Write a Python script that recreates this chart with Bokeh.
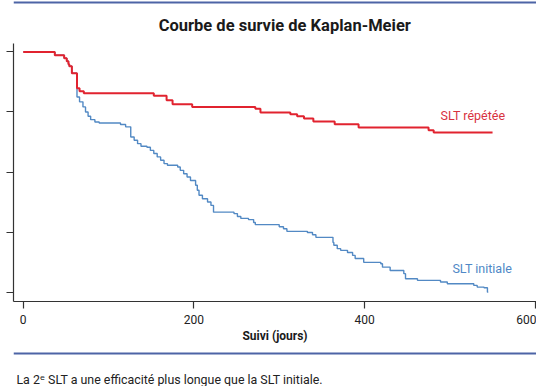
from bokeh.plotting import figure
from bokeh.models import Range1d, Span, FixedTicker, CustomJSTickFormatter
from bokeh.layouts import column
from bokeh.embed import file_html
from bokeh.resources import INLINE
from bokeh.core.properties import value

# ---------------- data ----------------
title_text = "Courbe de survie de Kaplan-Meier"
x_label = "Suivi (jours)"
caption_text = "La 2ᵉ SLT a une efficacité plus longue que la SLT initiale."
series_names = ["SLT répétée", "SLT initiale"]

x_ticks = [0, 200, 400, 600]
y_ticks = [0, 0.25, 0.5, 0.75, 1.0]

repeat_days = [0, 37, 48, 51, 53, 54, 57, 63, 66, 71, 153, 168, 175, 198, 272,
               278, 313, 321, 329, 340, 365, 393, 475, 481, 550]
repeat_surv = [1.0, 0.986, 0.974, 0.961, 0.949, 0.940, 0.911, 0.849, 0.836, 0.828,
               0.817, 0.799, 0.782, 0.771, 0.763, 0.748, 0.740, 0.732, 0.723, 0.710,
               0.699, 0.685, 0.674, 0.665, 0.665]

initial_days = [0, 37, 48, 51, 53, 54, 57, 63, 66, 70, 73, 76, 79, 84, 89, 114, 120,
                126, 130, 134, 138, 145, 149, 153, 157, 161, 165, 169, 181, 184, 188,
                192, 196, 202, 204, 206, 210, 216, 220, 223, 247, 251, 255, 264, 270,
                272, 300, 305, 309, 333, 339, 343, 363, 364, 368, 372, 380, 386, 389,
                399, 419, 421, 430, 446, 448, 462, 489, 497, 528, 532, 540, 544, 545]
initial_surv = [1.0, 0.986, 0.974, 0.961, 0.949, 0.940, 0.911, 0.812, 0.792, 0.771,
                0.750, 0.732, 0.718, 0.708, 0.704, 0.698, 0.688, 0.646, 0.632, 0.618,
                0.607, 0.603, 0.590, 0.577, 0.563, 0.549, 0.535, 0.528, 0.521, 0.507,
                0.493, 0.479, 0.465, 0.445, 0.424, 0.403, 0.389, 0.375, 0.361, 0.333,
                0.327, 0.315, 0.307, 0.302, 0.290, 0.281, 0.272, 0.264, 0.253, 0.248,
                0.239, 0.228, 0.207, 0.195, 0.181, 0.174, 0.165, 0.153, 0.140, 0.124,
                0.118, 0.104, 0.090, 0.077, 0.056, 0.049, 0.042, 0.035, 0.028, 0.021,
                0.018, 0.0, 0.0]

# label anchor positions (data units)
repeat_label_pos = (489, 0.736)
initial_label_pos = (503, 0.099)

# ---------------- style ----------------
FONT = "Roboto, 'DejaVu Sans'"
RED = "#e1232f"
RED_TXT = "#d8323f"
BLUE = "#5289c4"
BLUE_TXT = "#4f88c6"
RULE = "#4d64a6"
AXIS = "#333333"
W = 536

# ---------------- top (rule + title) ----------------
top = figure(width=W, height=38, x_range=Range1d(0, W), y_range=Range1d(0, 38),
             output_backend="svg", toolbar_location=None, min_border=0)
top.axis.visible = False
top.grid.visible = False
top.outline_line_color = None
top.add_layout(Span(location=36, dimension="width", line_color=RULE, line_width=2))
top.text(x=[278], y=[13], text=[title_text], text_font=value(FONT),
         text_font_size="16.5px", text_font_style="bold", text_color="#1a1a1a",
         text_align="center", text_baseline="middle")

# ---------------- main plot ----------------
p = figure(width=W, height=307, x_range=Range1d(-11.4, 601.5),
           y_range=Range1d(-0.039, 1.035), output_backend="svg",
           toolbar_location=None, min_border_left=13, min_border_right=0,
           min_border_top=5, min_border_bottom=44)
p.outline_line_color = None
p.grid.visible = False

p.step(initial_days, initial_surv, mode="after", line_color=BLUE, line_width=1.4)
p.step(repeat_days, repeat_surv, mode="after", line_color=RED, line_width=2)

p.text(x=[repeat_label_pos[0]], y=[repeat_label_pos[1]], text=[series_names[0]],
       text_font=value(FONT), text_font_size="12.5px", text_color=RED_TXT,
       text_align="left", text_baseline="middle")
p.text(x=[initial_label_pos[0]], y=[initial_label_pos[1]], text=[series_names[1]],
       text_font=value(FONT), text_font_size="12.5px", text_color=BLUE_TXT,
       text_align="left", text_baseline="middle")

for ax in (p.xaxis[0], p.yaxis[0]):
    ax.axis_line_color = AXIS
    ax.axis_line_width = 1.2
    ax.major_tick_line_color = AXIS
    ax.major_tick_line_width = 1.2
    ax.major_tick_in = 0
    ax.major_tick_out = 7
    ax.minor_tick_line_color = None

p.xaxis.ticker = FixedTicker(ticks=x_ticks)
p.xaxis.major_label_text_font = FONT
p.xaxis.major_label_text_font_size = "12px"
p.xaxis.major_label_text_color = "#222222"
p.xaxis.major_label_standoff = 6
p.xaxis.axis_label = x_label
p.xaxis.axis_label_text_font = FONT
p.xaxis.axis_label_text_font_size = "12px"
p.xaxis.axis_label_text_font_style = "bold"
p.xaxis.axis_label_text_color = "#1a1a1a"
p.xaxis.axis_label_standoff = 2

p.yaxis.ticker = FixedTicker(ticks=y_ticks)
p.yaxis.formatter = CustomJSTickFormatter(code="return '';")
p.yaxis.major_label_standoff = 0

# ---------------- bottom (rule + caption) ----------------
bottom = figure(width=W, height=41, x_range=Range1d(0, W), y_range=Range1d(0, 41),
                output_backend="svg", toolbar_location=None, min_border=0)
bottom.axis.visible = False
bottom.grid.visible = False
bottom.outline_line_color = None
bottom.add_layout(Span(location=33, dimension="width", line_color=RULE, line_width=2))
bottom.text(x=[3], y=[7], text=[caption_text], text_font=value(FONT),
            text_font_size="12.4px", text_color="#222222",
            text_align="left", text_baseline="middle")

layout = column(top, p, bottom)
open("out.html", "w").write(file_html(layout, INLINE))
